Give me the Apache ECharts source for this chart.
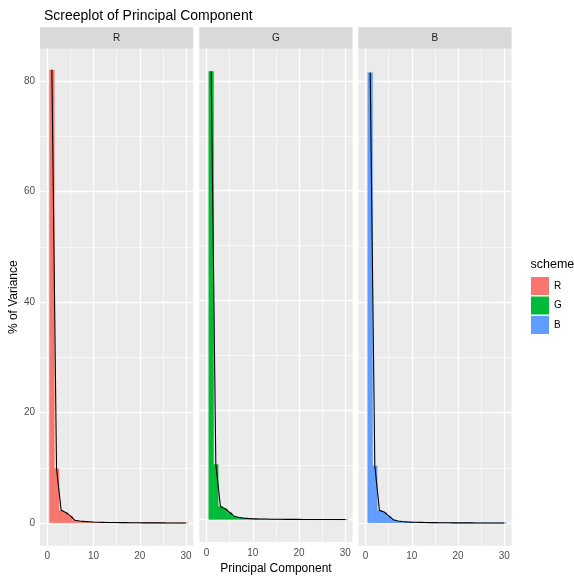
<!DOCTYPE html>
<html>
<head>
<meta charset="utf-8">
<script src="https://cdn.jsdelivr.net/npm/echarts@6/dist/echarts.min.js"></script>
<style>
  html, body { margin: 0; padding: 0; background: #fff; }
  #chart { width: 574px; height: 580px; }
</style>
</head>
<body>
<div id="chart"></div>
<script>
// ---- data ----
const pcs = [1, 2, 3, 4, 5, 6, 7, 8, 9, 10, 11, 12, 13, 14, 15, 16, 17, 18, 19, 20, 21, 22, 23, 24, 25, 26, 27, 28, 29, 30];
const redValues   = [82.1, 9.9, 2.3, 1.9, 1.3, 0.5, 0.38, 0.3, 0.24, 0.18, 0.15, 0.13, 0.11, 0.1, 0.09, 0.08, 0.07, 0.06, 0.05, 0.05, 0.04, 0.04, 0.03, 0.03, 0.03, 0.02, 0.02, 0.02, 0.01, 0.01];
const greenValues = [81.8, 10.1, 2.4, 2.0, 1.3, 0.6, 0.38, 0.28, 0.22, 0.17, 0.14, 0.12, 0.1, 0.08, 0.07, 0.06, 0.05, 0.05, 0.04, 0.04, 0.03, 0.03, 0.03, 0.02, 0.02, 0.02, 0.02, 0.01, 0.01, 0.01];
const blueValues  = [81.6, 10.4, 2.3, 2.0, 1.3, 0.6, 0.38, 0.28, 0.22, 0.17, 0.14, 0.12, 0.1, 0.08, 0.07, 0.06, 0.05, 0.05, 0.04, 0.04, 0.03, 0.03, 0.03, 0.02, 0.02, 0.02, 0.02, 0.01, 0.01, 0.01];
const schemes = ['R', 'G', 'B'];
const xTicks = [0, 10, 20, 30];
const xMinorTicks = [5, 15, 25];
const yTicks = [0, 20, 40, 60, 80];
const yMinorTicks = [10, 30, 50, 70];

const titleText = 'Screeplot of Principal Component';
const xTitle = 'Principal Component';
const yTitle = '% of Variance';
const legendTitle = 'scheme';

// ---- layout / style ----
const colors = ['#F8766D', '#00BA38', '#619CFF'];
const valuesBy = [redValues, greenValues, blueValues];
const FONT = 'Liberation Sans, Arial, sans-serif';
const XMIN = -1.57, XMAX = 31.57;
const YMIN = -4.1, YMAX = 85.9;
const PANEL_TOP = 48.7, PANEL_H = 497, PANEL_W = 153.3;
const STRIP_TOP = 27.3, STRIP_H = 21.4;
const panelLefts = [40, 199.3, 358.3];
const unitPx = PANEL_W / (XMAX - XMIN);

const chart = echarts.init(document.getElementById('chart'), null, { renderer: 'canvas' });

const grids = [], xAxes = [], yAxes = [], series = [], graphics = [];

schemes.forEach((s, i) => {
  grids.push({
    left: panelLefts[i], top: PANEL_TOP, width: PANEL_W, height: PANEL_H,
    show: true, backgroundColor: '#EBEBEB', borderWidth: 0, containLabel: false
  });
  xAxes.push({
    type: 'value', gridIndex: i, min: XMIN, max: XMAX,
    axisLine: { show: false },
    axisTick: { show: true, customValues: xTicks, length: 3, lineStyle: { color: '#333333', width: 1 } },
    axisLabel: { show: true, customValues: xTicks, color: '#4D4D4D', fontSize: 10, fontFamily: FONT, margin: 6 },
    splitLine: { show: false },
    name: i === 1 ? xTitle : '',
    nameLocation: 'middle', nameGap: 20,
    nameTextStyle: { color: '#000', fontSize: 12, fontFamily: FONT }
  });
  yAxes.push({
    type: 'value', gridIndex: i, min: YMIN, max: YMAX,
    axisLine: { show: false },
    axisTick: { show: i === 0, customValues: yTicks, length: 3, lineStyle: { color: '#333333', width: 1 } },
    axisLabel: { show: i === 0, customValues: yTicks, color: '#4D4D4D', fontSize: 10, fontFamily: FONT, margin: 5 },
    splitLine: { show: false },
    name: i === 0 ? yTitle : '',
    nameLocation: 'middle', nameGap: 19, nameRotate: 90,
    nameTextStyle: { color: '#000', fontSize: 12, fontFamily: FONT }
  });

  const vals = valuesBy[i];
  const pairs = pcs.map((p, k) => [p, vals[k]]);

  series.push({
    name: s, type: 'bar', xAxisIndex: i, yAxisIndex: i,
    data: pairs, barWidth: unitPx + 0.6, z: 2,
    itemStyle: { color: colors[i], borderColor: colors[i], borderWidth: 0.4 },
    silent: true, animation: false
  });

  const majorLines = xTicks.map(v => ({ xAxis: v, lineStyle: { width: 1.3 } }))
    .concat(yTicks.map(v => ({ yAxis: v, lineStyle: { width: 1.3 } })));
  const minorLines = xMinorTicks.map(v => ({ xAxis: v, lineStyle: { width: 0.6 } }))
    .concat(yMinorTicks.map(v => ({ yAxis: v, lineStyle: { width: 0.6 } })));

  series.push({
    name: 'line-' + s, type: 'line', xAxisIndex: i, yAxisIndex: i,
    data: pairs, z: 3, showSymbol: false, symbol: 'none',
    lineStyle: { color: '#000000', width: 1.1 },
    silent: true, animation: false,
    markLine: {
      z: 1, silent: true, symbol: ['none', 'none'], animation: false,
      label: { show: false },
      emphasis: { disabled: true },
      lineStyle: { color: '#FFFFFF', type: 'solid' },
      data: majorLines.concat(minorLines)
    }
  });

  graphics.push({
    type: 'rect', silent: true,
    shape: { x: panelLefts[i], y: STRIP_TOP, width: PANEL_W, height: STRIP_H },
    style: { fill: '#D9D9D9' }
  });
  graphics.push({
    type: 'text', silent: true,
    x: panelLefts[i] + PANEL_W / 2, y: STRIP_TOP + STRIP_H / 2,
    style: { text: s, fill: '#1A1A1A', fontSize: 10, fontFamily: FONT, align: 'center', verticalAlign: 'middle' }
  });
});

graphics.push({
  type: 'text', silent: true, x: 530.5, y: 265,
  style: { text: legendTitle, fill: '#000', fontSize: 12.5, fontFamily: FONT, align: 'left', verticalAlign: 'middle' }
});

chart.setOption({
  animation: false,
  backgroundColor: '#FFFFFF',
  title: {
    text: titleText, left: 39, top: 4,
    textStyle: { color: '#000', fontSize: 14, fontWeight: 'normal', fontFamily: FONT }
  },
  legend: {
    data: schemes, orient: 'vertical', left: 531, top: 277,
    icon: 'rect', itemWidth: 18, itemHeight: 18, itemGap: 1.5,
    padding: 0, selectedMode: false,
    textStyle: { color: '#000', fontSize: 10, fontFamily: FONT },
    itemStyle: { borderWidth: 0 }
  },
  grid: grids, xAxis: xAxes, yAxis: yAxes, series: series,
  graphic: graphics
});
</script>
</body>
</html>
